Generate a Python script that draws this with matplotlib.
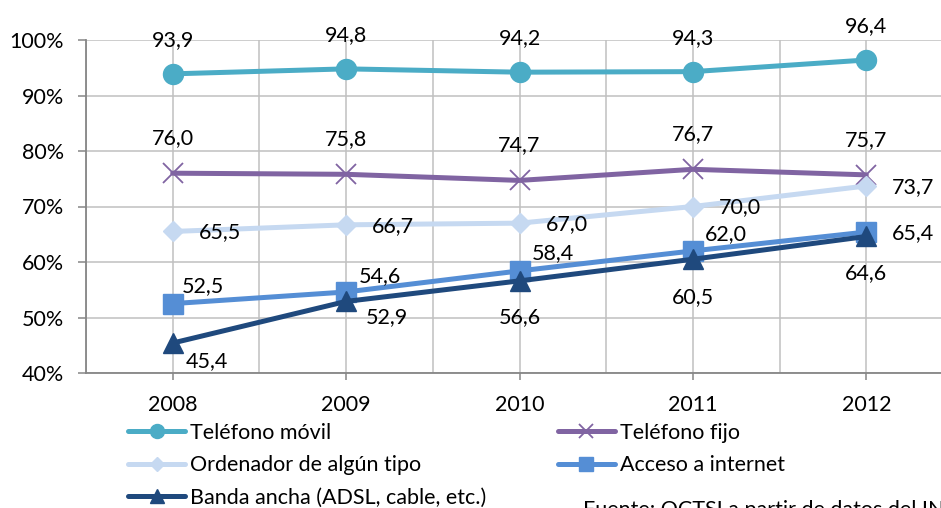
import matplotlib
matplotlib.use("Agg")
import matplotlib.pyplot as plt
from matplotlib.ticker import FixedLocator, FuncFormatter

plt.rcParams['font.family'] = ['Lato', 'DejaVu Sans']

years = ["2008", "2009", "2010", "2011", "2012"]
movil = [93.9, 94.8, 94.2, 94.3, 96.4]
fijo = [76.0, 75.8, 74.7, 76.7, 75.7]
ordenador = [65.5, 66.7, 67.0, 70.0, 73.7]
internet = [52.5, 54.6, 58.4, 62.0, 65.4]
banda = [45.4, 52.9, 56.6, 60.5, 64.6]
names = ["Teléfono móvil", "Teléfono fijo", "Ordenador de algún tipo",
         "Acceso a internet", "Banda ancha (ADSL, cable, etc.)"]
yticks = [40, 50, 60, 70, 80, 90, 100]
source = "Fuente: OCTSI a partir de datos del INE"

FS = 15.5
fig = plt.figure(figsize=(9.41, 5.08), dpi=100)
ax = fig.add_axes([86/941, 1-373/508, (953-86)/941, (373-40)/508])

x = list(range(len(years)))
px = 0.72  # points per pixel

series = [
    (movil, '#4BACC6', 'o', 14.4, dict(), [(0, 34)]*5),
    (fijo, '#8064A2', 'x', 14, dict(markeredgewidth=1.3), [(0, 35)]*5),
    (ordenador, '#C6D9F1', 'D', 10.5, dict(), [(47, -1)]*5),
    (internet, '#558ED5', 's', 14.4, dict(), [(30, 18), (34, 16), (33, 18), (33, 17), (47, -1)]),
    (banda, '#1F497D', '^', 14.4, dict(), [(34, -18), (41, -16), (0, -36), (0, -38), (0, -37)]),
]

handles = []
for i, (vals, col, mk, ms, extra, offs) in enumerate(series):
    ln, = ax.plot(x, vals, color=col, lw=3.6, marker=mk, markersize=ms,
                  markerfacecolor=col, markeredgecolor=col, zorder=3 + i,
                  label=names[i], solid_capstyle='round', clip_on=False, **extra)
    handles.append(ln)
    for xi, v, (dx, dy) in zip(x, vals, offs):
        ax.annotate(f"{v:.1f}".replace('.', ','), (xi, v), xytext=(dx*px, dy*px),
                    textcoords='offset points', ha='center', va='center',
                    fontsize=FS, color='black', zorder=10, annotation_clip=False)

ax.set_xlim(-0.5, 4.5)
ax.set_ylim(40, 100)
ax.xaxis.set_major_locator(FixedLocator(x))
ax.xaxis.set_minor_locator(FixedLocator([k - 0.5 for k in range(6)]))
ax.set_xticklabels(years, fontsize=FS)
ax.yaxis.set_major_locator(FixedLocator(yticks))
ax.yaxis.set_major_formatter(FuncFormatter(lambda v, p: f"{int(v)}%"))
ax.tick_params(axis='y', labelsize=FS, length=6, width=1.1, color='#868686', pad=10)
ax.tick_params(axis='x', which='major', labelsize=FS, length=5, width=1.1, color='#868686', pad=11)
ax.tick_params(axis='x', which='minor', length=0)
ax.grid(True, which='both', color='#C0C0C0', lw=1.1, zorder=0)
ax.set_axisbelow(True)
for s in ['top', 'right']:
    ax.spines[s].set_visible(False)
for s in ['left', 'bottom']:
    ax.spines[s].set_color('#868686')
    ax.spines[s].set_linewidth(1.3)

order = [0, 2, 4, 1, 3]
leg = fig.legend([handles[k] for k in order], [names[k] for k in order],
                 ncol=2, loc='upper left', bbox_to_anchor=(128/941, 1-423/508),
                 frameon=False, fontsize=FS, handlelength=2.65, handletextpad=0.25,
                 columnspacing=3.3, labelspacing=0.58, borderpad=0, borderaxespad=0,
                 markerscale=0.7)

fig.text(583/941, -8/508, source, fontsize=FS, ha='left', va='baseline')

fig.savefig("out.png", dpi=100)
